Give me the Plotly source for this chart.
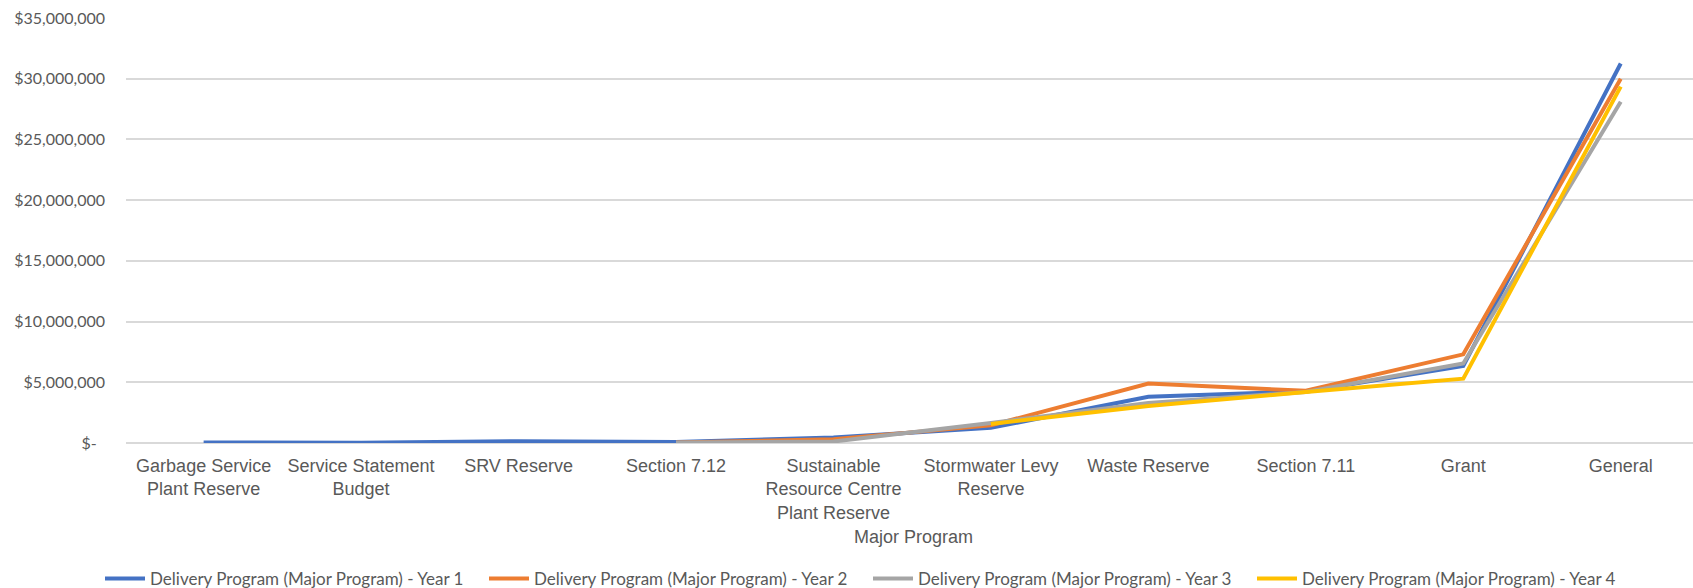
import plotly.graph_objects as go

# Major program categories and their axis labels
categories = [
    "Garbage Service Plant Reserve",
    "Service Statement Budget",
    "SRV Reserve",
    "Section 7.12",
    "Sustainable Resource Centre Plant Reserve",
    "Stormwater Levy Reserve",
    "Waste Reserve",
    "Section 7.11",
    "Grant",
    "General",
]
category_labels = [
    "Garbage Service<br>Plant Reserve",
    "Service Statement<br>Budget",
    "SRV Reserve",
    "Section 7.12",
    "Sustainable<br>Resource Centre<br>Plant Reserve",
    "Stormwater Levy<br>Reserve",
    "Waste Reserve",
    "Section 7.11",
    "Grant",
    "General",
]

# Funding per major program, one series per delivery year (None = no value)
year1 = [50000, 30000, 150000, 80000, 450000, 1250000, 3800000, 4250000, 6350000, 31250000]
year2 = [None, None, None, 50000, 300000, 1450000, 4900000, 4300000, 7300000, 30000000]
year3 = [None, None, None, 40000, 120000, 1650000, 3300000, 4200000, 6550000, 28100000]
year4 = [None, None, None, None, None, 1570000, 3050000, 4200000, 5300000, 29350000]

series_names = [
    "Delivery Program (Major Program) - Year 1",
    "Delivery Program (Major Program) - Year 2",
    "Delivery Program (Major Program) - Year 3",
    "Delivery Program (Major Program) - Year 4",
]
series_colors = ["#4472C4", "#ED7D31", "#A5A5A5", "#FFC000"]

# Value axis ticks
y_tick_values = [0, 5000000, 10000000, 15000000, 20000000, 25000000, 30000000, 35000000]
y_tick_labels = ["$-\u00a0\u00a0", "$5,000,000", "$10,000,000", "$15,000,000",
                 "$20,000,000", "$25,000,000", "$30,000,000", "$35,000,000"]

W, H = 1693, 588
ML, MR, MT, MB = 126, 0, 18, 145
plot_w = W - ML - MR
plot_h = H - MT - MB

fig = go.Figure()
for name, vals, color in zip(series_names, [year1, year2, year3, year4], series_colors):
    fig.add_trace(go.Scatter(
        x=categories, y=vals, name=name, mode="lines",
        line=dict(color=color, width=4),
        connectgaps=False,
    ))

fig.update_layout(
    width=W, height=H,
    margin=dict(l=ML, r=MR, t=MT, b=MB, autoexpand=False),
    paper_bgcolor="white", plot_bgcolor="white",
    font=dict(family="Lato", color="#595959", size=16),
    showlegend=True,
    legend=dict(
        orientation="h", x=(100 - ML) / plot_w, xanchor="left",
        y=-(579 - (H - MB)) / plot_h, yanchor="middle",
        font=dict(family="Lato", size=17, color="#595959"),
        entrywidth=329, entrywidthmode="pixels",
        itemwidth=40, traceorder="normal",
        bgcolor="rgba(0,0,0,0)",
    ),
    annotations=[dict(
        text="Major Program", xref="paper", yref="paper",
        x=(913 - ML) / plot_w, y=-(537 - (H - MB)) / plot_h,
        xanchor="center", yanchor="middle", showarrow=False,
        font=dict(family="Liberation Sans", size=18, color="#595959"),
    )],
)

fig.update_xaxes(
    type="category",
    tickvals=categories, ticktext=category_labels,
    range=[-0.493, 9.459],
    showgrid=False, zeroline=False,
    showline=False, ticks="",
    tickfont=dict(family="Liberation Sans", size=18, color="#595959"),
    ticklabelstandoff=10,
)
fig.update_yaxes(
    range=[0, 35000000],
    tickvals=y_tick_values, ticktext=y_tick_labels,
    showgrid=True, gridcolor="#D9D9D9", gridwidth=1.5,
    zeroline=True, zerolinecolor="#D9D9D9", zerolinewidth=1.5,
    showline=False, ticks="",
    tickfont=dict(family="Lato", size=16, color="#595959"),
    ticklabelstandoff=20,
)

fig.write_html("out.html")
